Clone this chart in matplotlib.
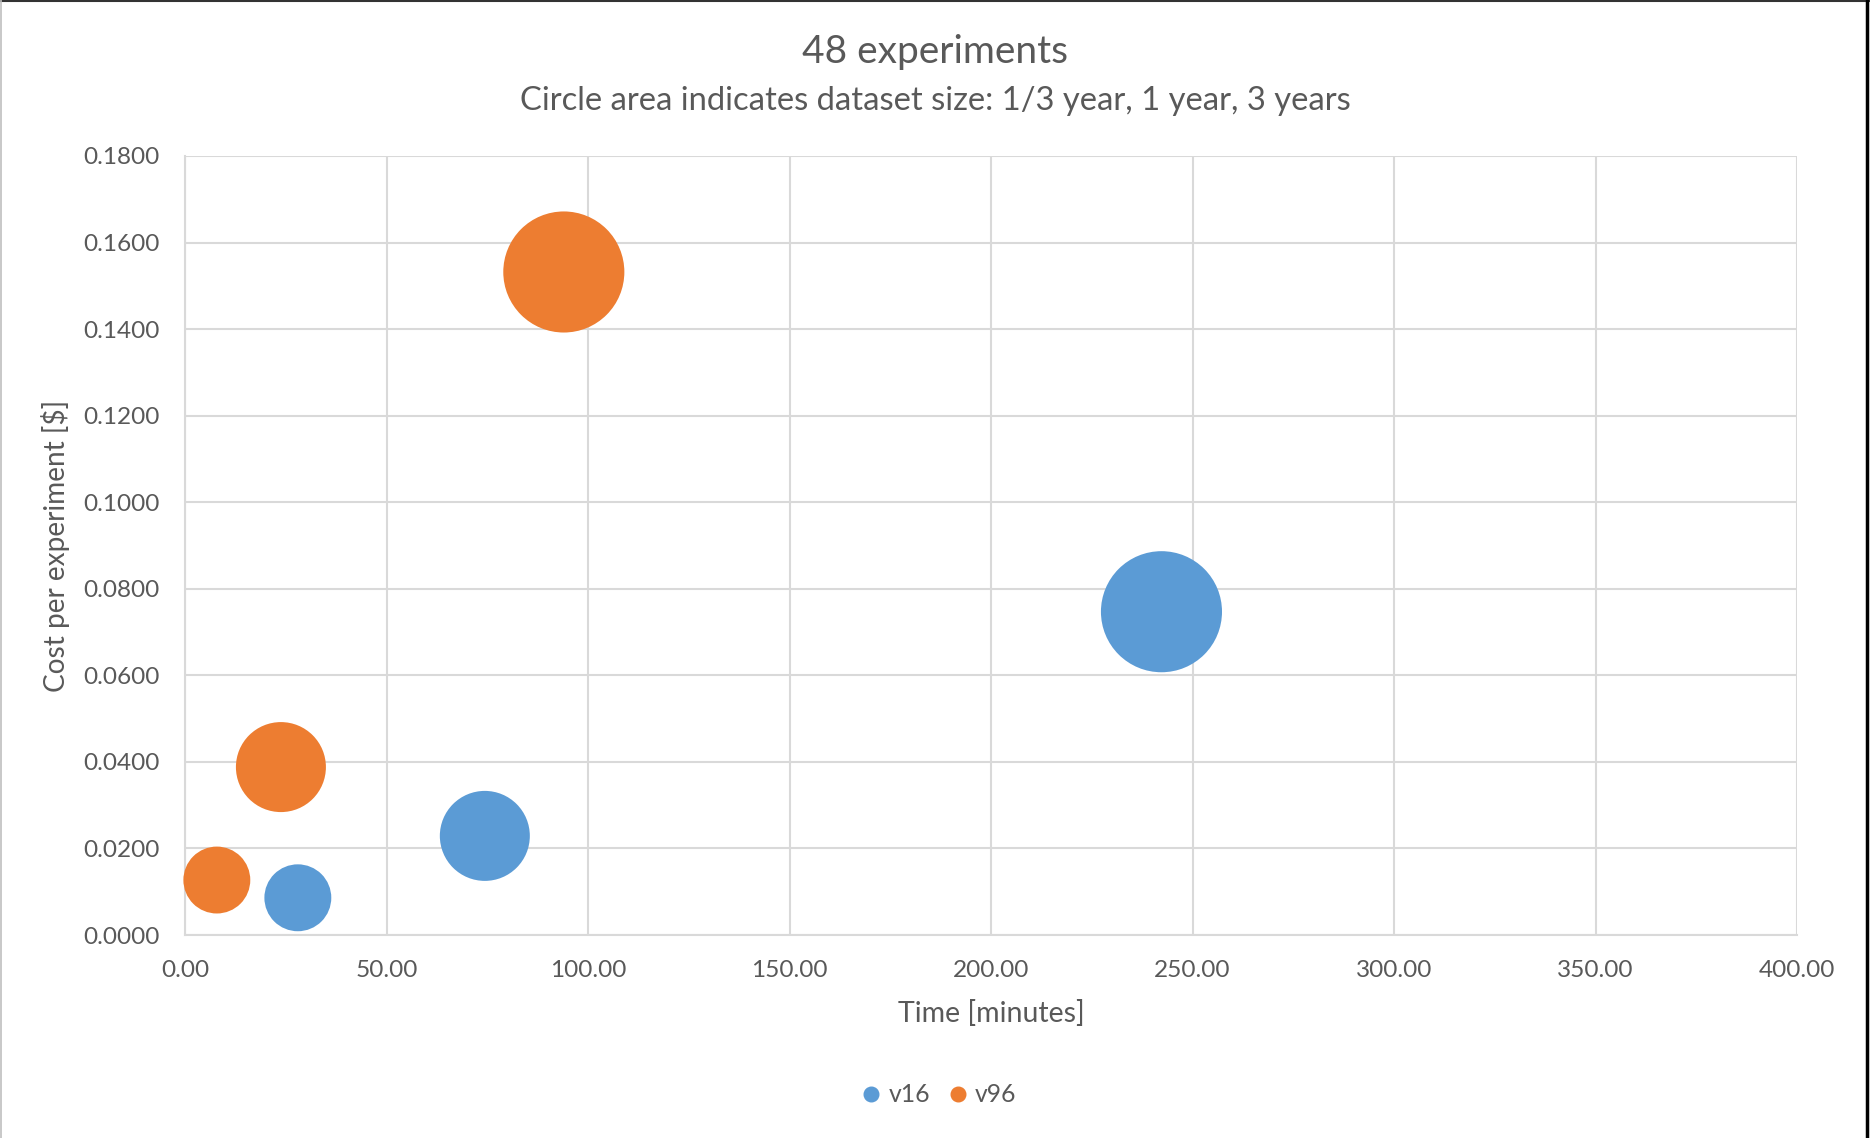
import matplotlib.pyplot as plt
from matplotlib.lines import Line2D
from matplotlib.ticker import FuncFormatter, MultipleLocator

# dataset sizes in years (bubble size)
dataset_years = [1 / 3, 1, 3]

# v16 series
v16_time = [28.0, 74.4, 242.3]
v16_cost = [0.0086, 0.0229, 0.0747]

# v96 series
v96_time = [7.9, 23.8, 94.0]
v96_cost = [0.0127, 0.0388, 0.1532]

TEXT = '#595959'
GRID = '#d9d9d9'
plt.rcParams['font.family'] = ['Lato', 'DejaVu Sans']

fig = plt.figure(figsize=(18.7, 11.38), dpi=100)
ax = fig.add_axes([185 / 1870, 1 - 935 / 1138, (1797 - 185) / 1870, (935 - 156) / 1138])


def bubble_s(years):
    # radius in px, scaled so the 1-year bubble is ~45 px
    r_px = 45 * years ** 0.27
    d_pt = 2 * r_px * 72 / 100
    return d_pt ** 2


sizes = [bubble_s(y) for y in dataset_years]
ax.scatter(v16_time, v16_cost, s=sizes, color='#5B9BD5', linewidths=0, zorder=3, clip_on=False)
ax.scatter(v96_time, v96_cost, s=sizes, color='#ED7D31', linewidths=0, zorder=3, clip_on=False)

ax.set_xlim(0, 400)
ax.set_ylim(0, 0.18)
ax.xaxis.set_major_locator(MultipleLocator(50))
ax.yaxis.set_major_locator(MultipleLocator(0.02))
ax.xaxis.set_major_formatter(FuncFormatter(lambda v, p: f'{v:.2f}'))
ax.yaxis.set_major_formatter(FuncFormatter(lambda v, p: f'{v:.4f}'))
ax.grid(True, color=GRID, linewidth=1.5, zorder=0)
ax.set_axisbelow(True)
for side in ['top', 'right']:
    ax.spines[side].set_visible(False)
for side in ['left', 'bottom']:
    ax.spines[side].set_color(GRID)
    ax.spines[side].set_linewidth(1.5)
ax.tick_params(length=0, labelsize=17.6, labelcolor=TEXT)
ax.tick_params(axis='x', pad=18)
ax.tick_params(axis='y', pad=18)

ax.set_xlabel('Time [minutes]', fontsize=20.5, color=TEXT, labelpad=14)
ax.set_ylabel('Cost per experiment [$]', fontsize=20.2, color=TEXT, labelpad=10)

fig.text(0.5, 1 - 52 / 1138, '48 experiments', ha='center', va='center', fontsize=28, color=TEXT)
fig.text(0.5, 1 - 101 / 1138, 'Circle area indicates dataset size: 1/3 year, 1 year, 3 years',
         ha='center', va='center', fontsize=23.6, color=TEXT)

handles = [Line2D([], [], marker='o', linestyle='', color='#5B9BD5', markersize=10.5),
           Line2D([], [], marker='o', linestyle='', color='#ED7D31', markersize=10.5)]
fig.legend(handles, ['v16', 'v96'], loc='center', bbox_to_anchor=(939 / 1870, 1 - 1095 / 1138),
           ncol=2, frameon=False, fontsize=17.8, labelcolor=TEXT, handletextpad=0.3,
           columnspacing=0.7, handlelength=0.8)

# outer frame of the screenshot
fig.add_artist(Line2D([0, 1], [0.999, 0.999], color='#333333', linewidth=1.5, transform=fig.transFigure))
fig.add_artist(Line2D([0.0008, 0.0008], [0, 1], color='#bfbfbf', linewidth=1.2, transform=fig.transFigure))
fig.add_artist(Line2D([0.9985, 0.9985], [0, 1], color='black', linewidth=2.5, transform=fig.transFigure))

fig.savefig('out.png', dpi=100)
